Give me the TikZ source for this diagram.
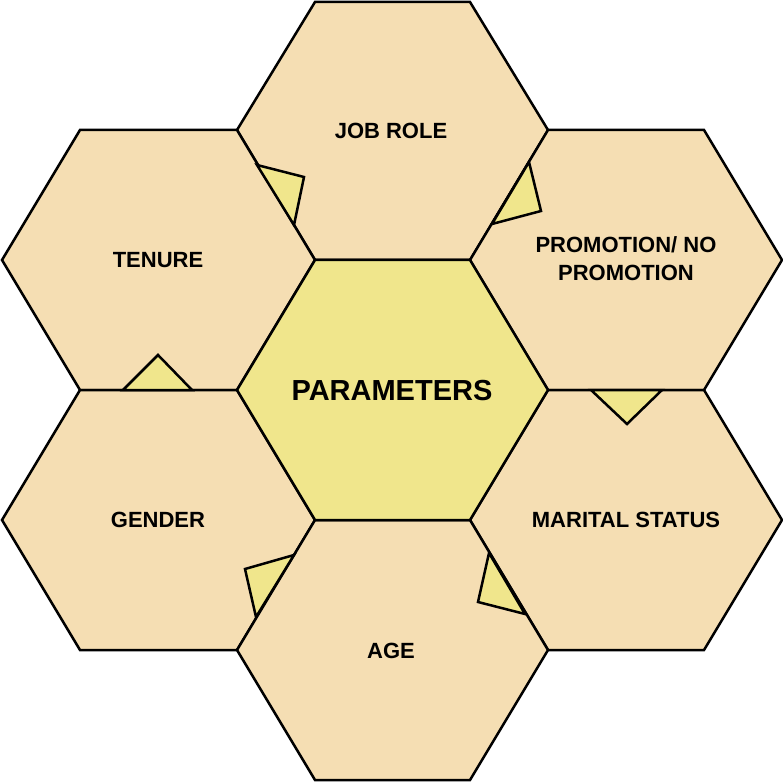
\documentclass[tikz,border=0pt]{standalone}
\usepackage{fontspec}
\setmainfont{Liberation Sans}
\definecolor{hexfill}{RGB}{245,222,179}
\definecolor{centerfill}{RGB}{240,230,140}
\begin{document}
\begin{tikzpicture}[x=1pt,y=-1pt,
  hexpath/.style={draw=black,line width=2.5pt,line join=miter,fill=hexfill},
  centerhex/.style={draw=black,line width=2.5pt,fill=centerfill},
  tri/.style={draw=black,line width=2.5pt,fill=centerfill,line join=miter},
  lbl/.style={font=\bfseries\fontsize{22}{28}\selectfont,align=center,inner sep=0pt},
  biglbl/.style={font=\bfseries\fontsize{29}{34}\selectfont,align=center,inner sep=0pt}]
\useasboundingbox (0,0) rectangle (783,783);
% outer hexagons
\draw[hexpath] (237,130)--(315,2)--(470,2)--(548,130)--(470,260)--(315,260)--cycle;
\draw[hexpath] (2,260)--(80,130)--(237,130)--(315,260)--(237,390)--(80,390)--cycle;
\draw[hexpath] (470,260)--(548,130)--(704,130)--(782,260)--(704,390)--(548,390)--cycle;
\draw[hexpath] (2,520)--(80,390)--(237,390)--(315,520)--(237,650)--(80,650)--cycle;
\draw[hexpath] (470,520)--(548,390)--(704,390)--(782,520)--(704,650)--(548,650)--cycle;
\draw[hexpath] (237,650)--(315,520)--(470,520)--(548,650)--(470,780)--(315,780)--cycle;
% center hexagon
\draw[centerhex] (237,390)--(315,260)--(470,260)--(548,390)--(470,520)--(315,520)--cycle;
% small triangles
\draw[tri] (257,165)--(304,177)--(294,225)--cycle;
\draw[tri] (529,162)--(541,211)--(492,224)--cycle;
\draw[tri] (123,390)--(158,355)--(192,390)--cycle;
\draw[tri] (591,390)--(627,424)--(662,390)--cycle;
\draw[tri] (294,555)--(245,569)--(256,617)--cycle;
\draw[tri] (489,553)--(478,602)--(525,614)--cycle;
% labels
\node[lbl] (jobrole) at (391,131) {JOB ROLE};
\node[lbl] (tenure) at (158,260) {TENURE};
\node[lbl] (promotion) at (626,259) {PROMOTION/ NO\\PROMOTION};
\node[biglbl] (params) at (392,391) {PARAMETERS};
\node[lbl] (gender) at (158,520) {GENDER};
\node[lbl] (marital) at (626,520) {MARITAL STATUS};
\node[lbl] (age) at (391,651) {AGE};
\end{tikzpicture}
\end{document}
